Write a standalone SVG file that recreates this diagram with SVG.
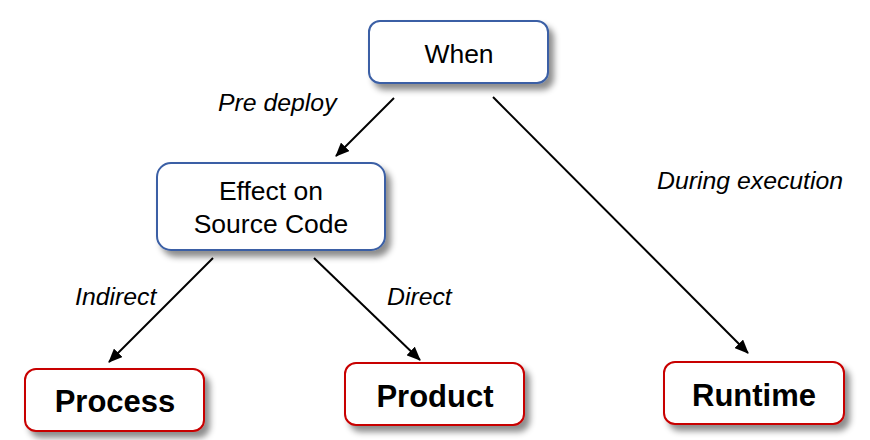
<svg xmlns="http://www.w3.org/2000/svg" width="870" height="440" viewBox="0 0 870 440">
<defs>
<filter id="sh" x="-20%" y="-20%" width="150%" height="160%">
<feDropShadow dx="5" dy="6" stdDeviation="3" flood-color="#000" flood-opacity="0.45"/>
</filter>
<marker id="ah" viewBox="0 0 14 12" refX="13" refY="6" markerWidth="14" markerHeight="12" markerUnits="userSpaceOnUse" orient="auto">
<path d="M0,0 L14,6 L0,12 Z" fill="#000"/>
</marker>
<style>
.blue{fill:#fff;stroke:#3a5fa5;stroke-width:2;filter:url(#sh)}
.red{fill:#fff;stroke:#c80000;stroke-width:2;filter:url(#sh)}
.t{font-family:"Liberation Sans",Arial,sans-serif;font-size:26.5px;fill:#000;text-anchor:middle}
.b{font-family:"Liberation Sans",Arial,sans-serif;font-size:31px;font-weight:bold;fill:#000;text-anchor:middle}
.l{font-family:"Liberation Sans",Arial,sans-serif;font-size:24.8px;font-style:italic;fill:#000}
.c{stroke:#000;stroke-width:2;fill:none;marker-end:url(#ah)}
</style>
</defs>
<rect width="870" height="440" fill="#fff"/>
<g id="connectors">
<line class="c" x1="394" y1="98" x2="336" y2="156"/>
<line class="c" x1="493" y1="97" x2="748" y2="353"/>
<line class="c" x1="213" y1="258" x2="109" y2="362"/>
<line class="c" x1="314" y1="258" x2="420" y2="360"/>
<text class="l" x="218" y="111">Pre deploy</text>
<text class="l" x="657" y="189">During execution</text>
<text class="l" x="75" y="305">Indirect</text>
<text class="l" x="387" y="305">Direct</text>
</g>
<g id="when">
<rect class="blue" x="369" y="21" width="179" height="62" rx="11"/>
<text class="t" x="459" y="63">When</text>
</g>
<g id="effect">
<rect class="blue" x="157" y="163" width="228" height="87" rx="14"/>
<text class="t" x="271" y="200">Effect on</text>
<text class="t" x="271" y="233">Source Code</text>
</g>
<g id="process">
<rect class="red" x="25" y="369" width="179" height="62" rx="11"/>
<text class="b" x="115" y="412">Process</text>
</g>
<g id="product">
<rect class="red" x="345" y="363" width="179" height="62" rx="11"/>
<text class="b" x="435" y="407">Product</text>
</g>
<g id="runtime">
<rect class="red" x="664" y="362" width="180" height="62" rx="11"/>
<text class="b" x="754" y="406">Runtime</text>
</g>
</svg>
